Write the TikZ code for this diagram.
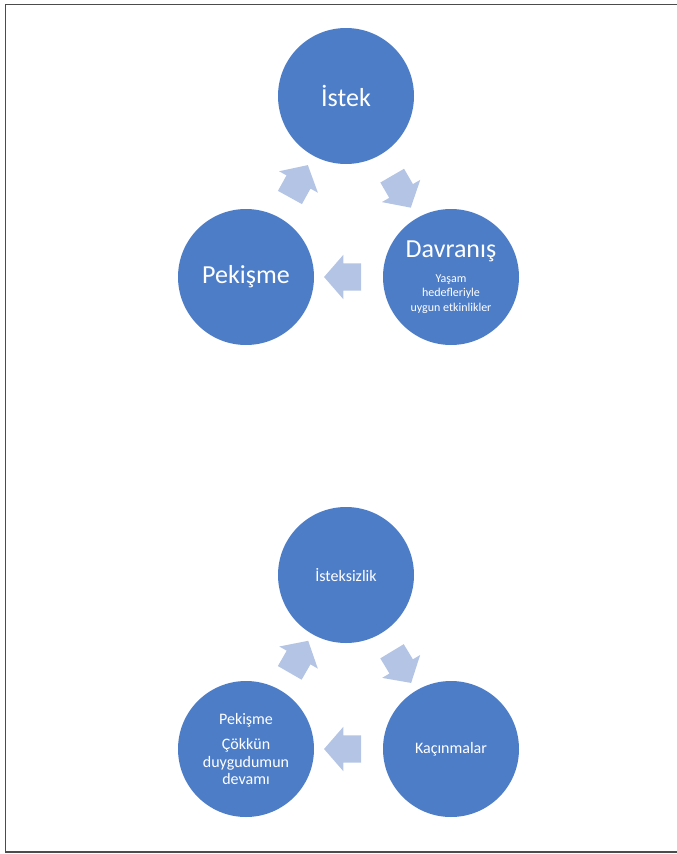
\documentclass[tikz,border=0pt]{standalone}
\usepackage{fontspec}
\setmainfont{Carlito}
\usetikzlibrary{shapes.arrows}

\definecolor{circblue}{RGB}{78,125,200}
\definecolor{arrowblue}{RGB}{180,196,228}

\newcommand{\subline}[1]{{\fontsize{12}{14.5}\selectfont #1}}

\tikzset{
    cyclenode/.style={circle, fill=circblue, text=white, minimum size=136pt, inner sep=0pt, align=center},
    bigfont/.style={font=\fontsize{26}{30}\selectfont},
    smallfont/.style={font=\fontsize{16}{17.5}\selectfont},
    cyclearrow/.style={single arrow, fill=arrowblue, minimum height=37pt, inner xsep=0pt, inner ysep=13.5pt,
        single arrow head extend=8.5pt, single arrow tip angle=98, midway, sloped, allow upside down},
}

\begin{document}
\begin{tikzpicture}[x=1pt, y=-1pt]

    \useasboundingbox (0,0) rectangle (677,854);

    % frame
    \draw [black!70, line width=1.2pt] (5.5,4.5) rectangle (680,852);

    % upper cycle
    \node [cyclenode, bigfont] (istek) at (346,96) {İstek};
    \node [cyclenode, bigfont] (davranis) at (451,277) {Davranış\\[-5pt]\subline{Yaşam}\\[-15.5pt]\subline{hedefleriyle}\\[-15.5pt]\subline{uygun etkinlikler}};
    \node [cyclenode, bigfont] (pekisme) at (246,277) {Pekişme};

    % upper arrows
    \path (pekisme) -- (istek) node [cyclearrow] {};
    \path (istek) -- (davranis) node [cyclearrow] {};
    \path (davranis) -- (pekisme) node [cyclearrow] {};

    % lower cycle
    \node [cyclenode, smallfont] (isteksiz) at (346,575) {İsteksizlik};
    \node [cyclenode, smallfont] (kacinma) at (451,749) {Kaçınmalar};
    \node [cyclenode, smallfont] (pekisme2) at (246,749) {Pekişme\\[7.5pt]Çökkün\\duygudumun\\devamı};

    % lower arrows
    \path (pekisme2) -- (isteksiz) node [cyclearrow] {};
    \path (isteksiz) -- (kacinma) node [cyclearrow] {};
    \path (kacinma) -- (pekisme2) node [cyclearrow] {};

\end{tikzpicture}
\end{document}
